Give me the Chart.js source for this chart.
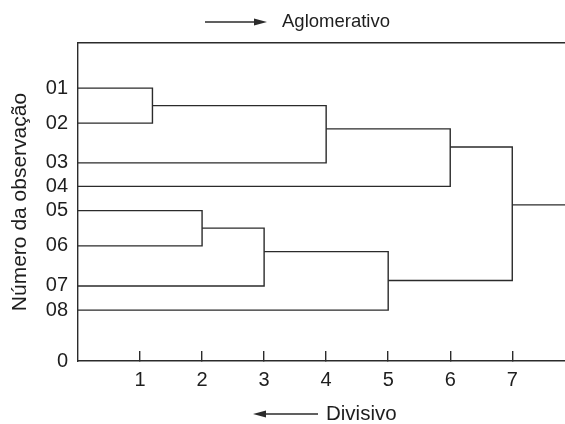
<!DOCTYPE html>
<html><head><meta charset="utf-8">
<script src="https://cdn.jsdelivr.net/npm/chart.js@4"></script>
<style>html,body{margin:0;padding:0;background:#fff}#wrap{width:565px;height:424px}</style>
</head><body><div id="wrap"><canvas id="c" width="565" height="424"></canvas></div>
<script>
// ---- data ----
const obsLabels = ['01','02','03','04','05','06','07','08'];
const obsPos = [8.58, 7.48, 6.23, 5.49, 4.73, 3.62, 2.36, 1.60];
// merges: node ids 0..7 = observations, 8.. = merges in order
const mergeA = [0, 8, 9, 4, 11, 12, 10];
const mergeB = [1, 2, 3, 5, 6, 7, 13];
const mergeDist = [1.2, 4, 6, 2, 3, 5, 7];
const mergePos = [8.03, 7.30, 6.73, 4.18, 3.44, 2.53, 4.91];
const rootTailEnd = 8;
const xTicks = [1, 2, 3, 4, 5, 6, 7];
const yZeroLabel = '0';
const topLabel = 'Aglomerativo';
const bottomLabel = 'Divisivo';
const yTitle = 'Número da observação';

const FONT = 'Liberation Sans, Arial, Helvetica, sans-serif';
const LINE = '#2b2b2b';
const TEXT = '#1e1e1e';
const nObs = obsLabels.length;
function nodeDist(id){ return id < nObs ? 0 : mergeDist[id - nObs]; }
function nodePos(id){ return id < nObs ? obsPos[id] : mergePos[id - nObs]; }

const datasets = mergeDist.map((d, k) => {
  const a = mergeA[k], b = mergeB[k];
  return {
    data: [
      {x: nodeDist(a), y: nodePos(a)},
      {x: d, y: nodePos(a)},
      {x: d, y: nodePos(b)},
      {x: nodeDist(b), y: nodePos(b)}
    ]
  };
});
const root = mergeDist.length - 1;
datasets.push({data: [{x: mergeDist[root], y: mergePos[root]}, {x: rootTailEnd, y: mergePos[root]}]});
datasets.forEach(ds => Object.assign(ds, {showLine: true, borderColor: LINE, borderWidth: 1.4, pointRadius: 0, fill: false, tension: 0}));

function arrow(ctx, x1, x2, y){
  const dir = Math.sign(x2 - x1);
  const head = 13;
  ctx.save();
  ctx.strokeStyle = LINE; ctx.fillStyle = LINE; ctx.lineWidth = 1.4;
  ctx.beginPath(); ctx.moveTo(x1, y); ctx.lineTo(x2 - dir*head, y); ctx.stroke();
  ctx.beginPath(); ctx.moveTo(x2, y); ctx.lineTo(x2 - dir*head, y - 3.5); ctx.lineTo(x2 - dir*head, y + 3.5); ctx.closePath(); ctx.fill();
  ctx.restore();
}

const annot = {
  id: 'annot',
  afterDraw(chart){
    const ctx = chart.ctx;
    const ca = chart.chartArea;
    ctx.save();
    ctx.fillStyle = TEXT;
    ctx.textBaseline = 'middle';
    ctx.textAlign = 'left';
    const yT = ca.top - 21;
    arrow(ctx, 205, 267, yT);
    ctx.font = '18.5px ' + FONT;
    ctx.fillText(topLabel, 282, yT);
    const yB = ca.bottom + 53;
    arrow(ctx, 318, 253, yB);
    ctx.font = '20.5px ' + FONT;
    ctx.fillText(bottomLabel, 326, yB);
    ctx.restore();
  }
};

new Chart(document.getElementById('c'), {
  type: 'scatter',
  data: {datasets},
  plugins: [annot],
  options: {
    responsive: false,
    animation: false,
    devicePixelRatio: 1,
    layout: {padding: {top: 43, right: 0, bottom: 0, left: 0}},
    plugins: {legend: {display: false}, tooltip: {enabled: false}},
    scales: {
      x: {
        type: 'linear', position: 'bottom', min: 0, max: 7.85,
        afterBuildTicks: s => { s.ticks = xTicks.map(v => ({value: v})); },
        afterFit: s => { s.height = 63; },
        ticks: {color: TEXT, padding: 17.5, font: {size: 20, family: FONT}, callback: v => String(v)},
        grid: {drawOnChartArea: false, tickLength: -10, color: LINE, lineWidth: 1.4},
        border: {display: true, color: LINE, width: 1.4}
      },
      xTop: {
        type: 'linear', position: 'top', min: 0, max: 7.85,
        afterFit: s => { s.height = 0; },
        ticks: {display: false},
        grid: {drawOnChartArea: false, drawTicks: false},
        border: {display: true, color: LINE, width: 1.4}
      },
      y: {
        type: 'linear', min: 0, max: 10,
        afterBuildTicks: s => { s.ticks = [0, ...obsPos].map(v => ({value: v})); },
        afterFit: s => { s.width = 78; },
        ticks: {autoSkip: false, color: TEXT, padding: 10, font: {size: 20, family: FONT},
          callback: v => { const i = obsPos.indexOf(v); return i >= 0 ? obsLabels[i] : yZeroLabel; }},
        grid: {drawOnChartArea: false, drawTicks: false},
        border: {display: true, color: LINE, width: 1.4},
        title: {display: true, text: yTitle, color: TEXT, font: {size: 21, family: FONT}, padding: {top: 8, bottom: 0}}
      }
    }
  }
});
</script></body></html>
